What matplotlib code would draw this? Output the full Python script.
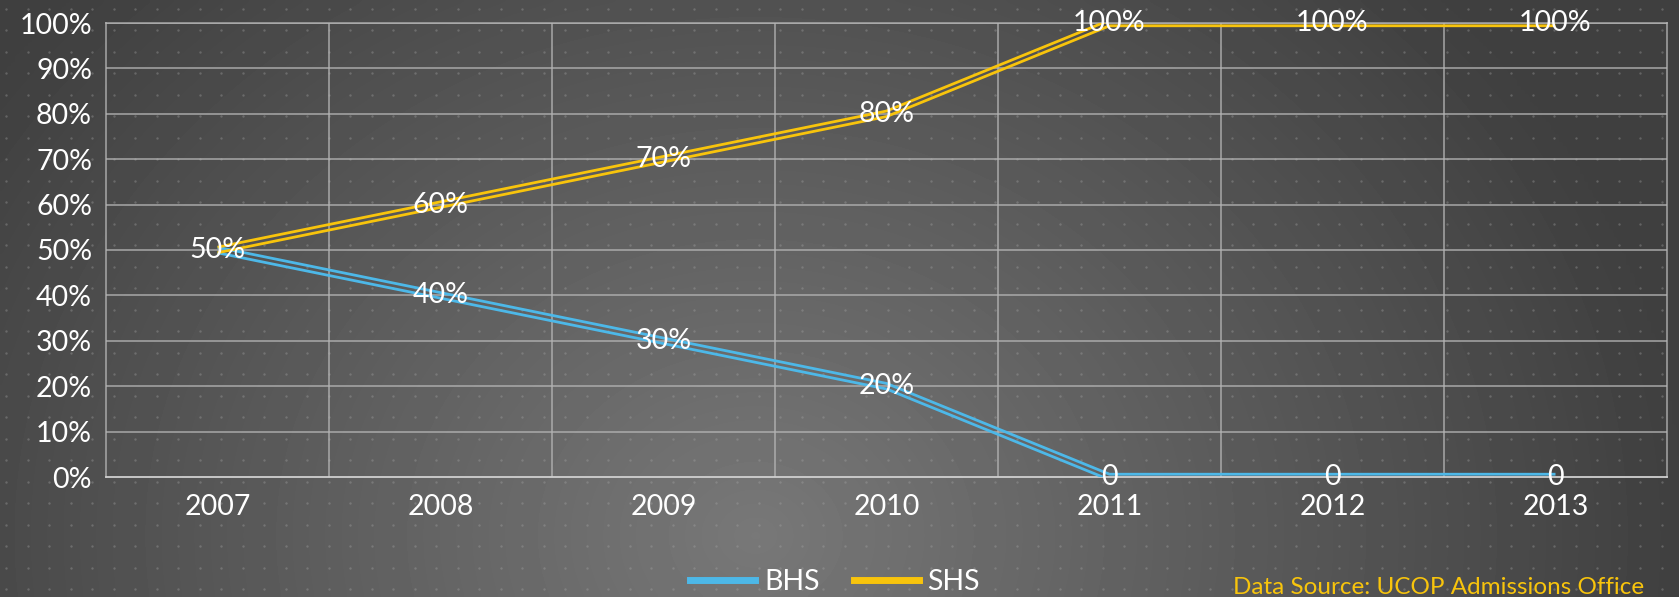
import numpy as np
import matplotlib
matplotlib.use("Agg")
import matplotlib.pyplot as plt
import matplotlib.transforms as mtransforms
from matplotlib.lines import Line2D

plt.rcParams['font.family'] = ['Lato', 'DejaVu Sans']

years = ['2007', '2008', '2009', '2010', '2011', '2012', '2013']
bhs = [50, 40, 30, 20, 0, 0, 0]
shs = [50, 60, 70, 80, 100, 100, 100]
bhs_labels = ['50%', '40%', '30%', '20%', '0', '0', '0']
shs_labels = ['', '60%', '70%', '80%', '100%', '100%', '100%']

blue = '#4db8e8'
yellow = '#f8c40c'
W, H = 1679, 597
fs = 20.5

fig = plt.figure(figsize=(W / 100, H / 100), dpi=100)

# background: grey gradient, lighter near bottom centre, with dotted pattern
bg = fig.add_axes([0, 0, 1, 1])
bg.set_axis_off()
gx, gy = np.meshgrid(np.linspace(0, 1, 400), np.linspace(0, 1, 150))
r = np.sqrt(((gx - 0.45) / 0.5) ** 2 + ((gy - 0.1) / 1.2) ** 2)
shade = 0.47 - 0.22 * np.clip(r / 1.1, 0, 1)
bg.imshow(shade, cmap='gray', vmin=0, vmax=1, extent=[0, 1, 0, 1],
          origin='lower', aspect='auto', interpolation='bicubic')
dx = np.arange(6, W, 21.5) / W
dy = np.arange(8, H, 21.5) / H
px, py = np.meshgrid(dx, dy)
bg.scatter(px.ravel(), py.ravel(), s=3, color='#a8a8a8', alpha=0.35, lw=0)
bg.set_xlim(0, 1)
bg.set_ylim(0, 1)

ax = fig.add_axes([106 / W, 1 - 477 / H, (1667 - 106) / W, (477 - 23) / H])
ax.patch.set_alpha(0)
x = np.arange(len(years))

# double-line style: two thin parallel strokes per series
for vals, col in [(bhs, blue), (shs, yellow)]:
    for off in (2.0, -2.0):
        tr = mtransforms.offset_copy(ax.transData, fig=fig, x=0, y=off, units='points')
        ax.plot(x, vals, color=col, lw=2.0, transform=tr, zorder=3, solid_capstyle='butt')

for xi, v, lab in zip(x, bhs, bhs_labels):
    ax.text(xi, v, lab, color='white', fontsize=fs, ha='center', va='center',
            zorder=5, clip_on=False)
for xi, v, lab in zip(x, shs, shs_labels):
    if lab:
        ax.text(xi, v, lab, color='white', fontsize=fs, ha='center', va='center',
                zorder=5, clip_on=False)

ax.set_xlim(-0.5, len(years) - 0.5)
ax.set_ylim(0, 100)
ax.set_yticks(np.arange(0, 101, 10))
ax.set_yticklabels([f'{v}%' for v in range(0, 101, 10)])
ax.set_xticks(x)
ax.set_xticklabels(years)
ax.tick_params(colors='white', labelsize=fs, length=0)
ax.tick_params(axis='y', pad=10)
ax.tick_params(axis='x', pad=12)

gc = '#b4b4b4'
for yv in np.arange(10, 101, 10):
    ax.axhline(yv, color=gc, lw=1.3, alpha=0.75, zorder=1)
for xv in np.arange(0.5, len(years) - 0.5, 1):
    ax.axvline(xv, color=gc, lw=1.3, alpha=0.75, zorder=1)
for side in ['left', 'right', 'top']:
    ax.spines[side].set_color(gc)
    ax.spines[side].set_alpha(0.75)
    ax.spines[side].set_linewidth(1.3)
ax.spines['bottom'].set_color('#d0d0d0')
ax.spines['bottom'].set_linewidth(1.3)

handles = [Line2D([], [], color=blue, lw=5), Line2D([], [], color=yellow, lw=5)]
fig.legend(handles, ['BHS', 'SHS'], loc='center', bbox_to_anchor=(835 / W, 1 - 582 / H),
           ncol=2, frameon=False, fontsize=fs, labelcolor='white',
           handlelength=2.3, handletextpad=0.3, columnspacing=1.2)

fig.text(1644 / W, 1 - 587 / H, 'Data Source: UCOP Admissions Office', color=yellow,
         fontsize=17.5, ha='right', va='center')

fig.savefig('out.png', dpi=100)
